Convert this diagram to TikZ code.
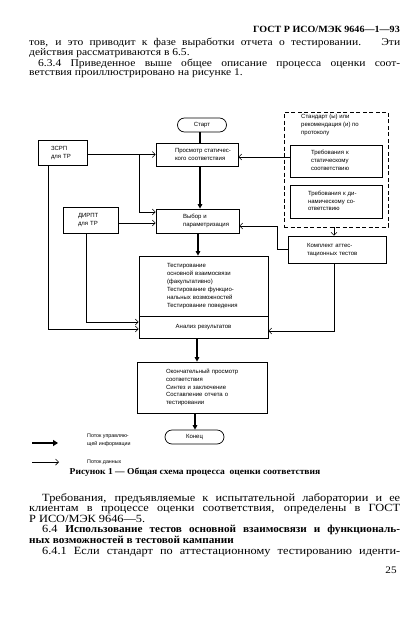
\documentclass[tikz,border=0pt]{standalone}
\usepackage{fontspec}
\setmainfont{Liberation Serif}[FakeStretch=1.12]
\newfontfamily\boldtxt{Liberation Serif Bold}[FakeStretch=1.06]
\newfontfamily\diag{Liberation Sans}
\usetikzlibrary{arrows.meta}
\newcommand\bxt[2]{\begin{tabular}{@{\hspace{#1}}l@{}}#2\end{tabular}}
\begin{document}
\begin{tikzpicture}[x=1pt,y=-1pt,
  bx/.style={draw, line width=0.7pt, inner sep=0pt, align=left,
     font=\diag\fontsize{6}{7.9}\selectfont},
  wh/.style n args={2}{minimum width=#1, text width=#1, minimum height=#2},
  term/.style={draw, line width=0.7pt, rounded corners=7pt, inner sep=0pt,
     font=\diag\fontsize{6}{7.9}\selectfont},
  ctrl/.style={line width=1.1pt, -{Triangle[length=4.5pt,width=4.5pt]}},
  ctrlline/.style={line width=1.1pt},
  data/.style={line width=0.5pt, -{Straight Barb[length=3pt,width=6pt,line width=0.5pt]}},
  para/.style={anchor=north west, inner sep=0pt, align=left},
  lg/.style={anchor=west, inner sep=0pt, align=left, font=\diag\fontsize{5.3}{7.5}\selectfont}
]
\useasboundingbox[fill=white] (0,0) rectangle (418,626);

% header and text above
\node[anchor=east, inner sep=0pt, font=\boldtxt\fontsize{9.5}{9.5}\selectfont] (hdr) at (400,29) {ГОСТ Р ИСО/МЭК 9646—1—93};
\node[para, font=\fontsize{10.3}{9}\selectfont] (ptop) at (29,38) {%
\makebox[371pt][s]{тов, и это приводит к фазе выработки отчета о тестировании. \ Эти}\\
действия рассматриваются в 6.5.\\
\hspace*{9pt}\makebox[362pt][s]{6.3.4 Приведенное выше общее описание процесса оценки соот-}\\
ветствия проиллюстрировано на рисунке 1.};

% diagram nodes
\node[term, minimum width=49pt, minimum height=14pt] (start) at (202,125) {Старт};
\node[bx, wh={82pt}{23pt}] (prosm) at (197,154.5) {\bxt{19pt}{Просмотр статичес-\\кого соответствия}};
\node[bx, wh={49pt}{25pt}] (zsrp) at (62.5,152.5) {\bxt{13pt}{ЗСРП\\для ТР}};
\node[bx, wh={55pt}{26pt}] (dirpt) at (90.5,220) {\bxt{15pt}{ДИРПТ\\для ТР}};
\node[bx, wh={83pt}{24pt}] (vybor) at (197.5,221) {\bxt{27pt}{Выбор и\\параметризация}};
\node[bx, wh={129pt}{60pt}] (test) at (203.5,286) {\bxt{28pt}{Тестирование\\основной взаимосвязи\\(факультативно)\\Тестирование функцио-\\нальных возможностей\\Тестирование поведения}};
\node[bx, wh={129pt}{22pt}, align=center] (analiz) at (203.5,327) {Анализ результатов};
\node[bx, wh={130pt}{51pt}] (okon) at (202,387.5) {\bxt{29pt}{Окончательный просмотр\\соответствия\\Синтез и заключение\\Составление отчета о\\тестировании}};
\node[term, minimum width=59pt, minimum height=14pt] (konec) at (194.5,437) {Конец};

\node[draw, line width=0.8pt, dash pattern=on 4pt off 2.5pt, minimum width=104pt, minimum height=115pt, inner sep=0pt] (dash) at (336,169.5) {};
\node[lg, font=\diag\fontsize{6}{7.9}\selectfont] (std) at (301,125) {Стандарт (ы) или\\рекомендация (и) по\\протоколу};
\node[bx, wh={92pt}{32pt}] (treb1) at (336,161) {\bxt{21pt}{Требования к\\статическому\\соответствию}};
\node[bx, wh={92pt}{33pt}] (treb2) at (336,201.5) {\bxt{18pt}{Требования к ди-\\намическому со-\\ответствию}};
\node[bx, wh={98pt}{27pt}] (kompl) at (337,249.5) {\bxt{19pt}{Комплект аттес-\\тационных тестов}};

% column coordinates
\coordinate (c1) at (200,0);
\coordinate (c2) at (198,0);
\coordinate (c3) at (197,0);
\coordinate (c4) at (195,0);
\coordinate (zb) at (139,0);
\coordinate (zx) at (48,0);
\coordinate (dx) at (86,0);
\coordinate (kx) at (334,0);
\coordinate (kc) at (277,0);
\coordinate (zE) at ([yshift=-2pt]zsrp.east);
\coordinate (dE) at ([yshift=-3pt]dirpt.east);
\coordinate (tW) at ([yshift=4pt]treb1.west);
\coordinate (vW1) at ([yshift=9pt]vybor.west);
\coordinate (vE) at ([yshift=-5pt]vybor.east);
\coordinate (aW1) at ([yshift=5pt]analiz.west);
\coordinate (aW2) at ([yshift=-2pt]analiz.west);
\coordinate (aE) at ([yshift=-4pt]analiz.east);

% control flow
\draw[ctrlline] (start.south -| c1) -- (prosm.north -| c1);
\draw[ctrl] (prosm.south -| c1) -- (vybor.north -| c1);
\draw[ctrl] (vybor.south -| c2) -- (test.north -| c2);
\draw[ctrl] (analiz.south -| c3) -- (okon.north -| c3);
\draw[ctrl] (okon.south -| c4) -- (konec.north -| c4);

% data flow
\draw[data] (zE) -- (zE -| prosm.west);
\draw[data] (zE -| zb) |- (vW1);
\draw[data] (zsrp.south -| zx) |- (aW2);
\draw[data] (dE) -- (dE -| vybor.west);
\draw[data] (dirpt.south -| dx) |- (aW1);
\draw[data] (tW) -- (tW -| prosm.east);
\draw[data] (dash.south -| kx) -- (kompl.north -| kx);
\draw[data] (kompl.west) -- (kompl.west -| kc) |- (vE);
\draw[data] (kompl.south -| kx) |- (aE);

% legend
\coordinate (l1a) at (32,443);
\coordinate (l1b) at (58,443);
\coordinate (l2a) at (32,462);
\coordinate (l2b) at (59,462);
\draw[line width=1.8pt, -{Triangle[length=5pt,width=6pt]}] (l1a) -- (l1b);
\draw[line width=0.7pt, -{Straight Barb[length=3pt,width=6pt,line width=0.7pt]}] (l2a) -- (l2b);
\node[lg] (lg1) at (87,440) {Поток управляю-\\щей информации};
\node[lg] (lg2) at (87,462) {Поток данных};

% caption
\node[inner sep=0pt, font=\boldtxt\fontsize{9}{9}\selectfont] (cap) at (195,472) {Рисунок 1 — Общая схема процесса \ оценки соответствия};

% text below
\node[para, font=\fontsize{11}{10.6}\selectfont] (pbot) at (29,493) {%
\hspace*{13pt}\makebox[358pt][s]{Требования, предъявляемые к испытательной лаборатории и ее}\\
\makebox[371pt][s]{клиентам в процессе оценки соответствия, определены в ГОСТ}\\
Р ИСО/МЭК 9646—5.\\
\hspace*{13pt}\makebox[358pt][s]{6.4 {\boldtxt\fontsize{10.6}{10.6}\selectfont Использование тестов основной взаимосвязи и функциональ-}}\\
{\boldtxt\fontsize{10.6}{10.6}\selectfont ных возможностей в тестовой кампании}\\
\hspace*{13pt}\makebox[358pt][s]{6.4.1 Если стандарт по аттестационному тестированию иденти-}};
\node[inner sep=0pt, font=\fontsize{10}{10}\selectfont] (pg) at (391,570) {25};
\end{tikzpicture}
\end{document}
